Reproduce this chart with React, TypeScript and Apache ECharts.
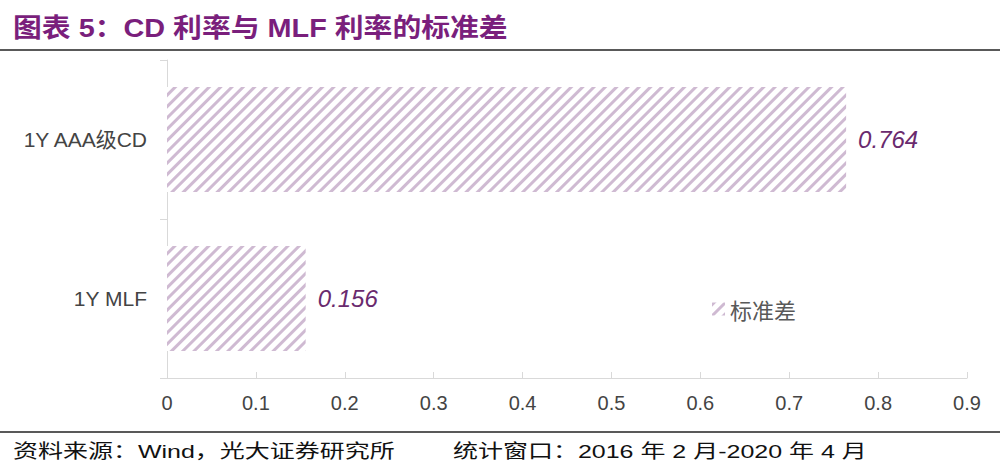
import React, { useEffect, useRef } from "react";
import * as echarts from "echarts";

const categories = ["1Y MLF", "1Y AAA级CD"];
const values = [0.156, 0.764];
const xTicks = [0, 0.1, 0.2, 0.3, 0.4, 0.5, 0.6, 0.7, 0.8, 0.9];
const seriesName = "标准差";
const titleText = "图表 5：CD 利率与 MLF 利率的标准差";
const sourceText1 = "资料来源：Wind，光大证券研究所";
const sourceText2 = "统计窗口：2016 年 2 月-2020 年 4 月";

const measure = (text: string, font: string) => {
  const c = document.createElement("canvas");
  const ctx = c.getContext("2d")!;
  ctx.font = font;
  return ctx.measureText(text).width;
};

const fitText = (text: string, x: number, y: number, width: number, font: string, fill: string) => {
  const w = measure(text, font);
  return {
    type: "text",
    x,
    y,
    scaleX: width / w,
    style: { text, font, fill, textVerticalAlign: "middle" },
  };
};

export default function App() {
  const ref = useRef<HTMLDivElement>(null);
  useEffect(() => {
    const chart = echarts.init(ref.current!, undefined, { renderer: "svg" });
    const decal = {
      symbol: "rect",
      color: "#CFBAD2",
      dashArrayX: [1, 0],
      dashArrayY: [3, 5],
      rotation: -Math.PI / 4,
      symbolSize: 1,
    };
    const titleFont = "bold 26px 'Liberation Sans', 'Noto Sans CJK SC', sans-serif";
    const footFont = "19px 'Liberation Sans', 'Noto Sans CJK SC', sans-serif";
    chart.setOption({
      animation: false,
      backgroundColor: "#fff",
      grid: { left: 167, right: 33, top: 60, bottom: 92 },
      graphic: [
        fitText(titleText, 13, 28, 495, titleFont, "#7A1F7C"),
        { type: "line", shape: { x1: 0, y1: 50, x2: 1000, y2: 50 }, style: { stroke: "#222", lineWidth: 1.5 } },
        { type: "line", shape: { x1: 0, y1: 432, x2: 1000, y2: 432 }, style: { stroke: "#222", lineWidth: 1.5 } },
        fitText(sourceText1, 13, 452, 382, footFont, "#111"),
        fitText(sourceText2, 453, 452, 414, footFont, "#111"),
      ],
      legend: {
        data: [seriesName],
        left: 707,
        top: 293,
        icon: "rect",
        itemWidth: 13,
        itemHeight: 13,
        itemGap: 8,
        textStyle: { color: "#595959", fontSize: 22, fontFamily: "'Noto Sans CJK SC', sans-serif" },
      },
      xAxis: {
        type: "value",
        min: 0,
        max: 0.9,
        interval: 0.1,
        splitLine: { show: false },
        axisLine: { show: true, lineStyle: { color: "#D9D9D9" } },
        axisTick: { show: true, length: 6, inside: true, lineStyle: { color: "#D9D9D9" } },
        axisLabel: {
          color: "#444",
          fontSize: 20,
          margin: 15,
          fontFamily: "'Liberation Sans', Arial, sans-serif",
          formatter: (v: number) => {
            const t = xTicks.find((x) => Math.abs(x - v) < 1e-9);
            return t === undefined ? "" : String(t);
          },
        },
      },
      yAxis: {
        type: "category",
        data: categories,
        axisLine: { show: true, lineStyle: { color: "#D9D9D9" } },
        axisTick: { show: true, length: 7, lineStyle: { color: "#D9D9D9" } },
        axisLabel: {
          color: "#444",
          fontSize: 21,
          margin: 20,
          fontFamily: "'Liberation Sans', Arial, 'Noto Sans CJK SC', sans-serif",
        },
      },
      series: [
        {
          name: seriesName,
          type: "bar",
          data: values,
          barWidth: "66%",
          itemStyle: { color: "#ffffff", decal },
          label: {
            show: true,
            position: "right",
            distance: 12,
            color: "#6A2A6E",
            fontSize: 24,
            fontStyle: "italic",
            fontFamily: "'Liberation Sans', Arial, sans-serif",
            formatter: (p: any) => p.value.toFixed(3),
          },
        },
      ],
    });
    return () => chart.dispose();
  }, []);
  return <div ref={ref} style={{ width: 1000, height: 470, position: "absolute", left: 0, top: 0 }} />;
}
